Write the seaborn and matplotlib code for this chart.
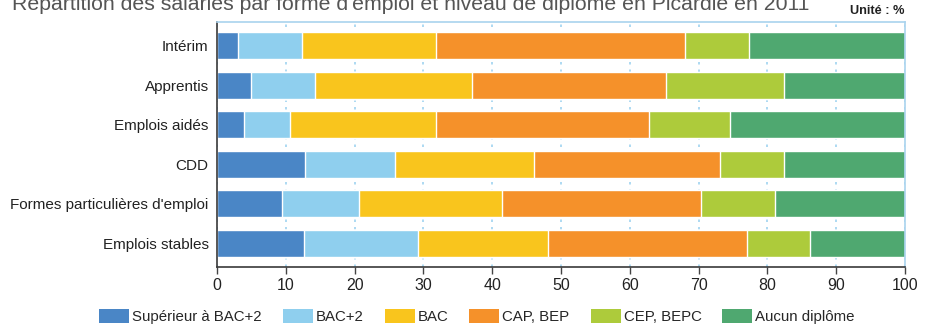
import matplotlib
matplotlib.use("Agg")
import matplotlib.pyplot as plt
from matplotlib.patches import Patch
import numpy as np
import pandas as pd
import seaborn as sns

# Forms of employment (top to bottom)
categories = ["Intérim", "Apprentis", "Emplois aidés", "CDD",
              "Formes particulières d'emploi", "Emplois stables"]

# Share of employees by diploma level (%)
sup_bac2 = [3.0, 5.0, 3.9, 12.8, 9.4, 12.6]
bac2 = [9.3, 9.3, 6.7, 13.1, 11.3, 16.6]
bac = [19.5, 22.8, 21.2, 20.2, 20.7, 18.9]
cap_bep = [36.2, 28.1, 31.0, 27.0, 28.9, 28.9]
cep_bepc = [9.3, 17.2, 11.8, 9.3, 10.8, 9.2]
aucun = [22.7, 17.6, 25.4, 17.6, 18.9, 13.8]

series_names = ["Supérieur à BAC+2", "BAC+2", "BAC", "CAP, BEP",
                "CEP, BEPC", "Aucun diplôme"]
series_values = [sup_bac2, bac2, bac, cap_bep, cep_bepc, aucun]
colors = ["#4A86C6", "#8FCFEE", "#F9C51D", "#F5912A", "#ADCB3B", "#4FA870"]

x_ticks = [0, 10, 20, 30, 40, 50, 60, 70, 80, 90, 100]

title = "Répartition des salariés par forme d'emploi et niveau de diplôme en Picardie en 2011"
unit = "Unité : %"

sns.set_theme(style="white")
plt.rcParams["font.family"] = ["Liberation Sans", "DejaVu Sans"]

fig = plt.figure(figsize=(9.26, 3.27), dpi=100)
ax = fig.add_axes([217 / 926, 1 - 267 / 327, (905 - 217) / 926, (267 - 22) / 327])

# Stacked bars: draw cumulative totals from the widest layer down
cum = np.cumsum(np.array(series_values), axis=0)
for i in range(len(series_names) - 1, -1, -1):
    df = pd.DataFrame({"cat": categories, "val": cum[i]})
    sns.barplot(data=df, x="val", y="cat", orient="h", color=colors[i],
                saturation=1, width=0.68, ax=ax, zorder=2)

ax.set_xlim(0, 100)
ax.set_ylim(5.6, -0.6)
ax.set_xticks(x_ticks)
ax.set_xticklabels([str(t) for t in x_ticks], fontsize=11.5, color="#222222")
ax.set_xlabel("")
ax.set_ylabel("")
ax.tick_params(axis="y", length=0, labelsize=11, labelcolor="#222222", pad=6)
ax.tick_params(axis="x", length=5, width=1, color="#444444", direction="out",
               bottom=True, pad=3)

ax.grid(axis="x", color="#9FD3F0", linestyle=(0, (1.5, 3)), linewidth=1.2, zorder=0)
ax.grid(axis="y", visible=False)
ax.set_axisbelow(True)

for side in ["left", "bottom"]:
    ax.spines[side].set_color("#3a3a3a")
    ax.spines[side].set_linewidth(1.2)
for side in ["top", "right"]:
    ax.spines[side].set_visible(True)
    ax.spines[side].set_color("#A9D3EE")
    ax.spines[side].set_linewidth(1.2)

fig.text(12 / 926, 1 - 9.5 / 327, title, fontsize=15.3, color="#555555",
         ha="left", va="baseline")
fig.text(905 / 926, 1 - 11 / 327, unit, fontsize=9.2, fontweight="bold",
         color="#222222", ha="right", va="center")

handles = [Patch(facecolor=c, edgecolor="none") for c in colors]
fig.legend(handles, series_names, loc="center", bbox_to_anchor=(477 / 926, 1 - 316.5 / 327),
           ncol=6, frameon=False, fontsize=10.8, handlelength=2.0, handleheight=1.0,
           handletextpad=0.2, columnspacing=1.4, borderaxespad=0)

fig.savefig("out.png", dpi=100)
